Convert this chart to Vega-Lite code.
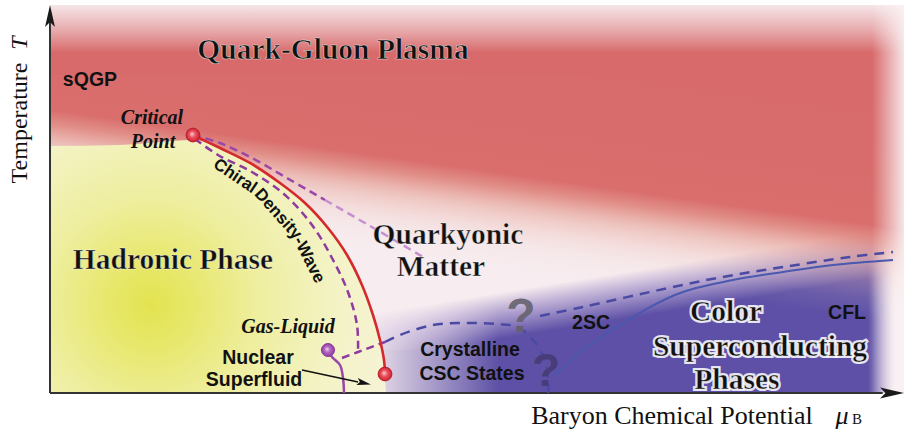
{
  "$schema": "https://vega.github.io/schema/vega-lite/v6.json",
  "width": 854,
  "height": 388,
  "autosize": {"type": "none"},
  "padding": {"left": 50, "top": 5, "right": 0, "bottom": 43},
  "background": "#ffffff",
  "config": {"view": {"stroke": null}},
  "datasets": {
    "regions": [
      {"r": "base", "x": 0, "x2": 100, "y": 0, "y2": 100},
      {"r": "blue", "x": 36.3, "x2": 98.9, "y": 0, "y2": 45.9},
      {"r": "blueFade", "x": 36.3, "x2": 100, "y": 11.08, "y2": 49.74},
      {"r": "redTop", "x": 0, "x2": 100, "y": 81.96, "y2": 100},
      {"r": "redLow", "x": 0, "x2": 100, "y": 0, "y2": 81.96},
      {"r": "rightFade", "x": 96.25, "x2": 100, "y": 0, "y2": 100}
    ],
    "yellow": [
      {"x": 0, "y": 63.66},
      {"x": 8.2, "y": 63.92},
      {"x": 16.74, "y": 65.21},
      {"x": 19.91, "y": 63.14},
      {"x": 23.42, "y": 59.28},
      {"x": 26.93, "y": 54.12},
      {"x": 29.86, "y": 48.97},
      {"x": 32.55, "y": 42.53},
      {"x": 34.78, "y": 35.57},
      {"x": 36.53, "y": 27.84},
      {"x": 37.82, "y": 20.1},
      {"x": 38.64, "y": 13.66},
      {"x": 39.11, "y": 8.51},
      {"x": 39.34, "y": 0}
    ],
    "lines": [
      {"s": "red", "x": 16.74, "y": 66.49},
      {"s": "red", "x": 19.91, "y": 63.14},
      {"s": "red", "x": 23.42, "y": 59.28},
      {"s": "red", "x": 26.93, "y": 54.12},
      {"s": "red", "x": 29.86, "y": 48.97},
      {"s": "red", "x": 32.55, "y": 42.53},
      {"s": "red", "x": 34.78, "y": 35.57},
      {"s": "red", "x": 36.53, "y": 27.84},
      {"s": "red", "x": 37.82, "y": 20.1},
      {"s": "red", "x": 38.64, "y": 13.66},
      {"s": "red", "x": 39.11, "y": 8.51},
      {"s": "red", "x": 39.23, "y": 5.15},
      {"s": "pin", "x": 16.98, "y": 65.46},
      {"s": "pin", "x": 19.67, "y": 61.34},
      {"s": "pin", "x": 23.65, "y": 56.96},
      {"s": "pin", "x": 27.52, "y": 51.03},
      {"s": "pin", "x": 30.68, "y": 43.3},
      {"s": "pin", "x": 33.02, "y": 34.79},
      {"s": "pin", "x": 34.89, "y": 26.03},
      {"s": "pin", "x": 35.95, "y": 17.53},
      {"s": "pin", "x": 36.07, "y": 10.57},
      {"s": "psh", "x": 34.19, "y": 9.02},
      {"s": "psh", "x": 36.07, "y": 10.57},
      {"s": "psh", "x": 39.23, "y": 13.14},
      {"s": "pout1", "x": 16.74, "y": 66.49},
      {"s": "pout1", "x": 19.91, "y": 64.43},
      {"s": "pout1", "x": 23.65, "y": 60.57},
      {"s": "pout1", "x": 27.75, "y": 55.41},
      {"s": "pout1", "x": 32.2, "y": 49.74},
      {"s": "pout2", "x": 32.2, "y": 49.74},
      {"s": "pout2", "x": 38.29, "y": 42.01},
      {"s": "pout2", "x": 43.68, "y": 35.05},
      {"s": "barc", "x": 39.23, "y": 13.14},
      {"s": "barc", "x": 40.98, "y": 14.95},
      {"s": "barc", "x": 44.85, "y": 17.53},
      {"s": "barc", "x": 48.83, "y": 18.04},
      {"s": "barc", "x": 52.34, "y": 17.78},
      {"s": "barc", "x": 54.68, "y": 17.01},
      {"s": "barc", "x": 56.56, "y": 13.66},
      {"s": "barc", "x": 57.96, "y": 8.51},
      {"s": "barc", "x": 58.31, "y": 3.35},
      {"s": "barc", "x": 58.35, "y": 0},
      {"s": "bup", "x": 57.38, "y": 19.85},
      {"s": "bup", "x": 62.41, "y": 22.16},
      {"s": "bup", "x": 70.26, "y": 26.03},
      {"s": "bup", "x": 78.1, "y": 29.64},
      {"s": "bup", "x": 85.83, "y": 32.47},
      {"s": "bup", "x": 93.68, "y": 35.05},
      {"s": "bup", "x": 98.71, "y": 36.34},
      {"s": "bsol", "x": 59.13, "y": 4.64},
      {"s": "bsol", "x": 62.41, "y": 11.08},
      {"s": "bsol", "x": 66.39, "y": 17.01},
      {"s": "bsol", "x": 70.26, "y": 22.16},
      {"s": "bsol", "x": 74.12, "y": 26.03},
      {"s": "bsol", "x": 79.98, "y": 29.12},
      {"s": "bsol", "x": 85.83, "y": 31.19},
      {"s": "bsol", "x": 91.69, "y": 32.99},
      {"s": "bsol", "x": 98.71, "y": 34.28},
      {"s": "gas", "x": 32.55, "y": 11.08},
      {"s": "gas", "x": 33.02, "y": 9.28},
      {"s": "gas", "x": 33.96, "y": 7.22},
      {"s": "gas", "x": 34.31, "y": 3.87},
      {"s": "gas", "x": 34.43, "y": 0},
      {"s": "arrow", "x": 29.51, "y": 5.93},
      {"s": "arrow", "x": 36.07, "y": 2.84}
    ],
    "axes": [
      {"a": "v", "x": 0, "y": 0, "x2": 0, "y2": 96},
      {"a": "h", "x": 0, "y": 0, "x2": 97.5, "y2": 0}
    ]
  },
  "encoding": {
    "x": {"field": "x", "type": "quantitative", "scale": {"domain": [0, 100], "nice": false, "zero": false}, "axis": null},
    "y": {"field": "y", "type": "quantitative", "scale": {"domain": [0, 100], "nice": false, "zero": false}, "axis": null}
  },
  "layer": [
    {
      "data": {"name": "regions"},
      "transform": [{"filter": "datum.r === 'base'"}],
      "mark": {"type": "rect", "fill": "#f7ecef"},
      "encoding": {"x2": {"field": "x2"}, "y2": {"field": "y2"}}
    },
    {
      "data": {"name": "regions"},
      "transform": [{"filter": "datum.r === 'blue'"}],
      "mark": {"type": "rect", "fill": {"gradient": "linear", "x1": 0, "y1": 0, "x2": 1, "y2": 0,
        "stops": [
          {"offset": 0, "color": "rgba(93,80,166,0)"},
          {"offset": 0.12, "color": "rgba(93,80,166,0.45)"},
          {"offset": 0.26, "color": "rgba(93,80,166,1)"},
          {"offset": 0.95, "color": "rgba(93,80,166,1)"},
          {"offset": 1, "color": "rgba(93,80,166,0)"}
        ]}},
      "encoding": {"x2": {"field": "x2"}, "y2": {"field": "y2"}}
    },
    {
      "data": {"name": "regions"},
      "transform": [{"filter": "datum.r === 'blueFade'"}],
      "mark": {"type": "rect", "fill": {"gradient": "linear", "x1": 0, "y1": 0, "x2": 0.59, "y2": 1,
        "stops": [
          {"offset": 0, "color": "rgba(247,236,239,1)"},
          {"offset": 0.57, "color": "rgba(247,236,239,1)"},
          {"offset": 0.68, "color": "rgba(238,222,238,0.55)"},
          {"offset": 0.8, "color": "rgba(238,222,238,0)"},
          {"offset": 1, "color": "rgba(238,222,238,0)"}
        ]}},
      "encoding": {"x2": {"field": "x2"}, "y2": {"field": "y2"}}
    },
    {
      "data": {"name": "regions"},
      "transform": [{"filter": "datum.r === 'redTop'"}],
      "mark": {"type": "rect", "fill": {"gradient": "linear", "x1": 0, "y1": 0, "x2": 0, "y2": 1,
        "stops": [
          {"offset": 0, "color": "rgba(216,106,107,0.05)"},
          {"offset": 0.36, "color": "rgba(216,106,107,0.5)"},
          {"offset": 0.68, "color": "rgba(216,106,107,1)"},
          {"offset": 1, "color": "rgba(216,106,107,1)"}
        ]}},
      "encoding": {"x2": {"field": "x2"}, "y2": {"field": "y2"}}
    },
    {
      "data": {"name": "regions"},
      "transform": [{"filter": "datum.r === 'redLow'"}],
      "mark": {"type": "rect", "fill": {"gradient": "linear", "x1": 0.85, "y1": 0, "x2": 0.474, "y2": 1,
        "stops": [
          {"offset": 0, "color": "rgba(216,106,107,1)"},
          {"offset": 0.376, "color": "rgba(217,110,109,1)"},
          {"offset": 0.417, "color": "rgba(222,128,120,0.85)"},
          {"offset": 0.472, "color": "rgba(230,160,148,0.55)"},
          {"offset": 0.527, "color": "rgba(236,185,175,0.3)"},
          {"offset": 0.583, "color": "rgba(240,205,198,0.1)"},
          {"offset": 0.638, "color": "rgba(240,210,205,0)"},
          {"offset": 1, "color": "rgba(240,210,205,0)"}
        ]}},
      "encoding": {"x2": {"field": "x2"}, "y2": {"field": "y2"}}
    },
    {
      "data": {"name": "regions"},
      "transform": [{"filter": "datum.r === 'rightFade'"}],
      "mark": {"type": "rect", "fill": {"gradient": "linear", "x1": 0, "y1": 0, "x2": 1, "y2": 0,
        "stops": [
          {"offset": 0, "color": "rgba(250,242,244,0)"},
          {"offset": 1, "color": "rgba(250,242,244,0.9)"}
        ]}},
      "encoding": {"x2": {"field": "x2"}, "y2": {"field": "y2"}}
    },
    {
      "data": {"name": "yellow"},
      "mark": {"type": "area", "interpolate": "monotone", "fill": {"gradient": "radial", "x1": 0.3, "y1": 0.615, "r1": 0, "x2": 0.3, "y2": 0.615, "r2": 0.8,
        "stops": [
          {"offset": 0, "color": "#e3e350"},
          {"offset": 0.15, "color": "#e7e76a"},
          {"offset": 0.4, "color": "#eeee9f"},
          {"offset": 0.7, "color": "#f4f3c6"},
          {"offset": 1, "color": "#f7f2dc"}
        ]}},
      "encoding": {"y2": {"datum": 0}, "order": {"value": null}}
    },
    {
      "data": {"name": "axes"},
      "mark": {"type": "rule", "color": "#333333", "strokeWidth": 2},
      "encoding": {"x2": {"field": "x2"}, "y2": {"field": "y2"}}
    },
    {
      "data": {"values": [{"x": 0, "y": 97.16}]},
      "mark": {"type": "point", "shape": "M-0.45,1L0,-1L0.45,1L0,0.55Z", "size": 484, "filled": true, "color": "#1a1a1a", "opacity": 1},
      "encoding": {}
    },
    {
      "data": {"values": [{"x": 98.6, "y": 0}]},
      "mark": {"type": "point", "shape": "M-1,-0.45L1,0L-1,0.45L-0.55,0Z", "size": 576, "filled": true, "color": "#1a1a1a", "opacity": 1},
      "encoding": {}
    },
    {
      "data": {"name": "lines"},
      "transform": [{"filter": "datum.s === 'pout1'"}],
      "mark": {"type": "line", "color": "#9a47a8", "strokeWidth": 2.5, "strokeDash": [8, 5], "interpolate": "catmull-rom"},
      "encoding": {"order": {"value": null}}
    },
    {
      "data": {"name": "lines"},
      "transform": [{"filter": "datum.s === 'pout2'"}],
      "mark": {"type": "line", "color": "#c590d0", "strokeWidth": 2.5, "strokeDash": [8, 5], "interpolate": "catmull-rom"},
      "encoding": {"order": {"value": null}}
    },
    {
      "data": {"name": "lines"},
      "transform": [{"filter": "datum.s === 'pin' || datum.s === 'psh'"}],
      "mark": {"type": "line", "color": "#8e3a9e", "strokeWidth": 2.5, "strokeDash": [8, 5], "interpolate": "catmull-rom"},
      "encoding": {"detail": {"field": "s"}, "order": {"value": null}}
    },
    {
      "data": {"name": "lines"},
      "transform": [{"filter": "datum.s === 'barc' || datum.s === 'bup'"}],
      "mark": {"type": "line", "color": "#4b4aa3", "strokeWidth": 2.5, "strokeDash": [10, 7], "interpolate": "catmull-rom"},
      "encoding": {"detail": {"field": "s"}, "order": {"value": null}}
    },
    {
      "data": {"name": "lines"},
      "transform": [{"filter": "datum.s === 'bsol'"}],
      "mark": {"type": "line", "color": "#4a58ad", "strokeWidth": 2, "interpolate": "catmull-rom"},
      "encoding": {"order": {"value": null}}
    },
    {
      "data": {"name": "lines"},
      "transform": [{"filter": "datum.s === 'gas'"}],
      "mark": {"type": "line", "color": "#9a48a8", "strokeWidth": 2.5, "interpolate": "catmull-rom"},
      "encoding": {"order": {"value": null}}
    },
    {
      "data": {"name": "lines"},
      "transform": [{"filter": "datum.s === 'red'"}],
      "mark": {"type": "line", "color": "#d42a2c", "strokeWidth": 2.6, "interpolate": "catmull-rom"},
      "encoding": {"order": {"value": null}}
    },
    {
      "data": {"name": "lines"},
      "transform": [{"filter": "datum.s === 'arrow'"}],
      "mark": {"type": "line", "color": "#111111", "strokeWidth": 1.6},
      "encoding": {"order": {"value": null}}
    },
    {
      "data": {"values": [{"x": 36.77, "y": 2.58}]},
      "mark": {"type": "point", "shape": "M-1,-0.5L1,0L-1,0.5L-0.6,0Z", "size": 200, "angle": 12, "filled": true, "color": "#111111", "opacity": 1},
      "encoding": {}
    },
    {
      "data": {"values": [{"x": 16.74, "y": 66.49}, {"x": 39.23, "y": 4.9}]},
      "mark": {"type": "point", "shape": "circle", "size": 190, "opacity": 1, "filled": true, "stroke": "#b51d2a", "strokeWidth": 1,
        "fill": {"gradient": "radial", "x1": 0.42, "y1": 0.42, "r1": 0, "x2": 0.5, "y2": 0.5, "r2": 0.5,
          "stops": [{"offset": 0, "color": "#fbd0d4"}, {"offset": 0.45, "color": "#ea5560"}, {"offset": 1, "color": "#cf1f2d"}]}},
      "encoding": {}
    },
    {
      "data": {"values": [{"x": 32.55, "y": 11.08}]},
      "mark": {"type": "point", "shape": "circle", "size": 170, "opacity": 1, "filled": true, "stroke": "#8a3a98", "strokeWidth": 1,
        "fill": {"gradient": "radial", "x1": 0.42, "y1": 0.42, "r1": 0, "x2": 0.5, "y2": 0.5, "r2": 0.5,
          "stops": [{"offset": 0, "color": "#f0d4f4"}, {"offset": 0.45, "color": "#b466c2"}, {"offset": 1, "color": "#8e3ea0"}]}},
      "encoding": {}
    },
    {
      "data": {"values": [{"x": 55.15, "y": 19.85, "label": "?"}]},
      "mark": {"type": "text", "font": "Liberation Sans", "fontWeight": "bold", "fontSize": 48, "color": "#67626f", "opacity": 0.9, "baseline": "middle", "align": "center", "dy": 2},
      "encoding": {"text": {"field": "label"}}
    },
    {
      "data": {"values": [{"x": 58.08, "y": 5.93, "label": "?"}]},
      "mark": {"type": "text", "font": "Liberation Sans", "fontWeight": "bold", "fontSize": 46, "color": "#463c75", "opacity": 0.9, "baseline": "middle", "align": "center", "dy": 2},
      "encoding": {"text": {"field": "label"}}
    },
    {
      "data": {"values": [
        {"x": 79.16, "y": 20.88, "label": "Color"},
        {"x": 83.14, "y": 11.86, "label": "Superconducting"},
        {"x": 80.44, "y": 3.35, "label": "Phases"}
      ]},
      "mark": {"type": "text", "font": "Liberation Serif", "fontWeight": "bold", "fontSize": 29.5, "fill": "#ffffff", "stroke": "#ffffff", "strokeWidth": 4, "strokeOpacity": 0.85, "baseline": "middle", "align": "center"},
      "encoding": {"text": {"field": "label"}}
    },
    {
      "data": {"values": [
        {"x": 33.14, "y": 88.4, "label": "Quark-Gluon Plasma"},
        {"x": 79.16, "y": 20.88, "label": "Color"},
        {"x": 83.14, "y": 11.86, "label": "Superconducting"},
        {"x": 80.44, "y": 3.35, "label": "Phases"},
        {"x": 46.6, "y": 40.72, "label": "Quarkyonic"},
        {"x": 45.78, "y": 32.47, "label": "Matter"},
        {"x": 14.4, "y": 34.28, "label": "Hadronic Phase"}
      ]},
      "mark": {"type": "text", "font": "Liberation Serif", "fontWeight": "bold", "fontSize": 29.5, "color": "#111111", "stroke": "#ffffff", "strokeWidth": 0.6, "strokeOpacity": 0.7, "baseline": "middle", "align": "center"},
      "encoding": {"text": {"field": "label"}}
    },
    {
      "data": {"values": [
        {"x": 11.94, "y": 70.88, "label": "Critical"},
        {"x": 12.06, "y": 64.69, "label": "Point"},
        {"x": 27.87, "y": 17.01, "label": "Gas-Liquid"}
      ]},
      "mark": {"type": "text", "font": "Liberation Serif", "fontWeight": "bold", "fontStyle": "italic", "fontSize": 20, "color": "#111111", "baseline": "middle", "align": "center"},
      "encoding": {"text": {"field": "label"}}
    },
    {
      "data": {"values": [
        {"x": 4.68, "y": 80.67, "label": "sQGP"},
        {"x": 24.36, "y": 9.02, "label": "Nuclear"},
        {"x": 23.89, "y": 3.35, "label": "Superfluid"},
        {"x": 49.18, "y": 11.08, "label": "Crystalline"},
        {"x": 49.41, "y": 4.9, "label": "CSC States"},
        {"x": 63.35, "y": 18.04, "label": "2SC"},
        {"x": 93.33, "y": 20.62, "label": "CFL"}
      ]},
      "mark": {"type": "text", "font": "Liberation Sans", "fontWeight": "bold", "fontSize": 19.5, "color": "#111111", "baseline": "middle", "align": "center"},
      "encoding": {"text": {"field": "label"}}
    },
    {
      "data": {"values": [{"x": 21.66, "y": 55.93, "label": "Chiral"}]},
      "mark": {"type": "text", "font": "Liberation Sans", "fontWeight": "bold", "fontSize": 17, "angle": 34, "color": "#111111", "baseline": "middle", "align": "center"},
      "encoding": {"text": {"field": "label"}}
    },
    {
      "data": {"values": [{"x": 26.7, "y": 46.13, "label": "Density"}]},
      "mark": {"type": "text", "font": "Liberation Sans", "fontWeight": "bold", "fontSize": 17, "angle": 48, "color": "#111111", "baseline": "middle", "align": "center"},
      "encoding": {"text": {"field": "label"}}
    },
    {
      "data": {"values": [{"x": 30.33, "y": 34.28, "label": "-Wave"}]},
      "mark": {"type": "text", "font": "Liberation Sans", "fontWeight": "bold", "fontSize": 17, "angle": 63, "color": "#111111", "baseline": "middle", "align": "center"},
      "encoding": {"text": {"field": "label"}}
    },
    {
      "data": {"values": [{"x": -3.51, "y": 69.6, "label": "Temperature"}]},
      "mark": {"type": "text", "font": "Liberation Serif", "fontSize": 24, "angle": -90, "color": "#111111", "baseline": "middle", "align": "center"},
      "encoding": {"text": {"field": "label"}}
    },
    {
      "data": {"values": [{"x": -3.51, "y": 90.2, "label": "T"}]},
      "mark": {"type": "text", "font": "Liberation Serif", "fontStyle": "italic", "fontSize": 24, "angle": -90, "color": "#111111", "baseline": "middle", "align": "center"},
      "encoding": {"text": {"field": "label"}}
    },
    {
      "data": {"values": [{"x": 72.83, "y": -7.99, "label": "Baryon Chemical Potential"}]},
      "mark": {"type": "text", "font": "Liberation Serif", "fontSize": 26, "color": "#111111", "baseline": "alphabetic", "align": "center"},
      "encoding": {"text": {"field": "label"}}
    },
    {
      "data": {"values": [{"x": 92.74, "y": -7.99, "label": "μ"}]},
      "mark": {"type": "text", "font": "Liberation Serif", "fontStyle": "italic", "fontSize": 26, "color": "#111111", "baseline": "alphabetic", "align": "center"},
      "encoding": {"text": {"field": "label"}}
    },
    {
      "data": {"values": [{"x": 94.5, "y": -7.99, "label": "B"}]},
      "mark": {"type": "text", "font": "Liberation Serif", "fontSize": 15, "color": "#111111", "baseline": "alphabetic", "align": "center"},
      "encoding": {"text": {"field": "label"}}
    }
  ]
}
